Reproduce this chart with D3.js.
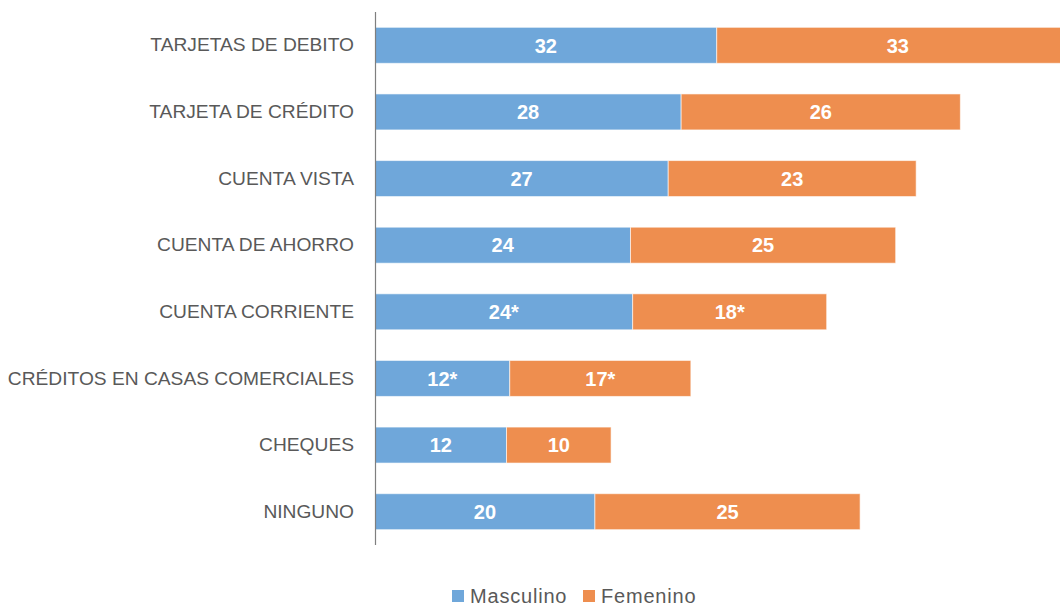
<!DOCTYPE html>
<html>
<head>
<meta charset="utf-8">
<script src="https://cdn.jsdelivr.net/npm/d3@7"></script>
<style>
  body { margin: 0; background: #fff; }
  text { font-family: "Liberation Sans", "DejaVu Sans", sans-serif; }
</style>
</head>
<body>
<svg id="chart" width="1060" height="607"></svg>
<script>
// categories, top to bottom
const categories = [
  'TARJETAS DE DEBITO',
  'TARJETA DE CRÉDITO',
  'CUENTA VISTA',
  'CUENTA DE AHORRO',
  'CUENTA CORRIENTE',
  'CRÉDITOS EN CASAS COMERCIALES',
  'CHEQUES',
  'NINGUNO'
];
// bar lengths
const masculino = [31.7, 28.4, 27.2, 23.7, 23.9, 12.5, 12.2, 20.4];
const femenino = [33.6, 25.9, 23.0, 24.6, 18.0, 16.8, 9.7, 24.6];
// printed labels
const masculinoLabels = ['32', '28', '27', '24', '24*', '12*', '12', '20'];
const femeninoLabels = ['33', '26', '23', '25', '18*', '17*', '10', '25'];
const seriesNames = ['Masculino', 'Femenino'];
const colors = ['#6FA7DA', '#EE8E4F'];

const svg = d3.select('#chart');
const margin = { top: 12, right: 0, bottom: 62, left: 375 };
const width = +svg.attr('width');
const height = +svg.attr('height');
const innerHeight = height - margin.top - margin.bottom;

const xScale = d3.scaleLinear()
  .domain([0, 65])
  .range([0, 65 * 10.78]);

const yScale = d3.scaleBand()
  .domain(categories)
  .range([0, innerHeight])
  .paddingInner(0.46)
  .paddingOuter(0.23);

const g = svg.append('g')
  .attr('transform', `translate(${margin.left},${margin.top})`);

// stacked rows
const rows = categories.map((c, i) => ({
  cat: c,
  segs: [
    { x0: 0, x1: masculino[i], label: masculinoLabels[i], color: colors[0] },
    { x0: masculino[i], x1: masculino[i] + femenino[i], label: femeninoLabels[i], color: colors[1] }
  ]
}));

const rowG = g.selectAll('.row').data(rows)
  .enter().append('g')
    .attr('class', 'row')
    .attr('transform', d => `translate(0,${yScale(d.cat)})`);

rowG.selectAll('rect').data(d => d.segs)
  .enter().append('rect')
    .attr('x', d => xScale(d.x0))
    .attr('y', 0)
    .attr('width', d => xScale(d.x1) - xScale(d.x0))
    .attr('height', yScale.bandwidth())
    .attr('fill', d => d.color)
    .attr('stroke', '#fff')
    .attr('stroke-opacity', 0.6)
    .attr('stroke-width', 1);

rowG.selectAll('.val').data(d => d.segs)
  .enter().append('text')
    .attr('class', 'val')
    .attr('x', d => (xScale(d.x0) + xScale(d.x1)) / 2)
    .attr('y', yScale.bandwidth() / 2)
    .attr('dy', '0.36em')
    .attr('text-anchor', 'middle')
    .attr('fill', '#fff')
    .attr('font-weight', 'bold')
    .attr('font-size', 20)
    .text(d => d.label);

// y axis: category labels + vertical line
const yAxis = d3.axisLeft(yScale).tickSize(0).tickPadding(21);
const yAxisG = g.append('g').attr('class', 'y-axis').call(yAxis);
yAxisG.select('.domain')
  .attr('stroke', '#7f7f7f')
  .attr('stroke-width', 1.2)
  .attr('d', `M0.5,0V${innerHeight}`);
yAxisG.selectAll('.tick text')
  .attr('fill', '#595959')
  .attr('font-size', 19.2)
  .style('font-family', '"Liberation Sans", sans-serif');

// legend
const legend = svg.append('g').attr('transform', 'translate(452,595)');
const legendX = [0, 131];
seriesNames.forEach((name, i) => {
  const lg = legend.append('g').attr('transform', `translate(${legendX[i]},0)`);
  lg.append('rect')
    .attr('x', 0).attr('y', -5)
    .attr('width', 12).attr('height', 12)
    .attr('fill', colors[i]);
  lg.append('text')
    .attr('x', 18)
    .attr('dy', '0.38em')
    .attr('fill', '#595959')
    .attr('font-size', 20)
    .attr('letter-spacing', 0.8)
    .text(name);
});
</script>
</body>
</html>
